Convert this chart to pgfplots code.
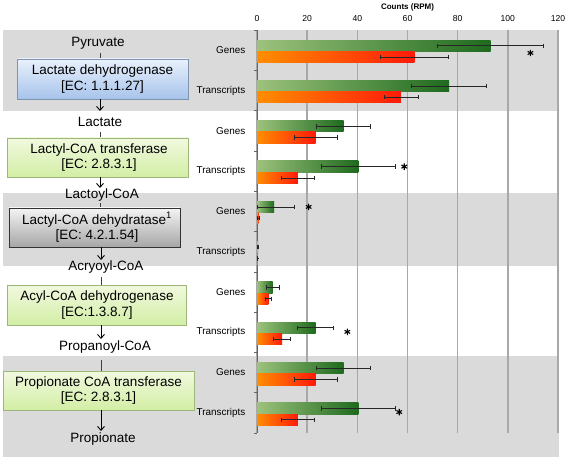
\documentclass[border=0pt]{standalone}
\usepackage{fontspec}
\setmainfont{Liberation Sans}
\usepackage{pgfplots}
\pgfplotsset{compat=1.18}
\usetikzlibrary{arrows.meta}
\definecolor{bandgrey}{HTML}{DADADA}
\definecolor{gridgrey}{HTML}{A8A8A8}
\definecolor{glight}{HTML}{9DC27C}
\definecolor{gdark}{HTML}{1E6A1E}
\definecolor{olight}{HTML}{FF8E00}
\definecolor{odark}{HTML}{FF1A0A}
\definecolor{bluetop}{HTML}{E9F1FC}
\definecolor{bluebot}{HTML}{A7C3EB}
\definecolor{blueedge}{HTML}{7F93AE}
\definecolor{greentop}{HTML}{F1F9DF}
\definecolor{greenbot}{HTML}{D3EEA5}
\definecolor{greenedge}{HTML}{9DB77A}
\definecolor{greytop}{HTML}{F4F4F4}
\definecolor{greybot}{HTML}{A6A6A6}
\begin{document}
\begin{tikzpicture}[x=1bp,y=-1bp]
\path[use as bounding box] (0,0) rectangle (567,458);
% background bands
\fill[bandgrey] (3,30) rectangle (559,111.5);
\fill[bandgrey] (3,193) rectangle (559,266);
\fill[bandgrey] (3,356) rectangle (559,457);
% pathway
\tikzset{met/.style={font=\fontsize{13.5bp}{15.5bp}\selectfont, inner sep=0pt},
  enz/.style={font=\fontsize{13.5bp}{15.5bp}\selectfont, align=center, inner sep=0pt},
  conn/.style={black!75, line width=0.9bp},
  arr/.style={black, line width=0.9bp, -{Straight Barb[length=4bp,width=7bp]}}}
\node[met] at (98,43) {Pyruvate};
\draw[conn] (100,53) -- (100,59);
\draw[blueedge, line width=0.8bp, top color=bluetop, bottom color=bluebot] (17,59) rectangle (188,99);
\node[enz] at (102.5,79) {Lactate dehydrogenase\\{}[EC: 1.1.1.27]};
\draw[arr] (100,99) -- (100,111);
\node[met] at (100,122) {Lactate};
\draw[conn] (100,132) -- (100,138);
\draw[greenedge, line width=0.8bp, top color=greentop, bottom color=greenbot] (7,138) rectangle (188,177);
\node[enz] at (99,157.5) {Lactyl-CoA transferase\\{}[EC: 2.8.3.1]};
\draw[arr] (100,177) -- (100,188);
\node[met] at (102,195) {Lactoyl-CoA};
\draw[conn] (100,203) -- (100,208);
\draw[black!80, line width=0.9bp, top color=greytop, bottom color=greybot] (9,208) rectangle (180,247);
\node[enz] at (97,227.5) {Lactyl-CoA dehydratase\textsuperscript{1}\\{}[EC: 4.2.1.54]};
\draw[arr] (101,247) -- (101,260);
\node[met] at (106,267) {Acryoyl-CoA};
\draw[conn] (101,277) -- (101,285);
\draw[greenedge, line width=0.8bp, top color=greentop, bottom color=greenbot] (7,285) rectangle (186,325);
\node[enz] at (97,305) {Acyl-CoA dehydrogenase\\{}[EC:1.3.8.7]};
\draw[arr] (101,325) -- (101,339);
\node[met] at (105,347) {Propanoyl-CoA};
\draw[conn] (101,360) -- (101,371);
\draw[greenedge, line width=0.8bp, top color=greentop, bottom color=greenbot] (3,371) rectangle (194,410);
\node[enz] at (98.5,390.5) {Propionate CoA transferase\\{}[EC: 2.8.3.1]};
\draw[arr] (101,410) -- (101,431);
\node[met] at (103,439) {Propionate};
% chart
\begin{axis}[
  at={(257bp,-433bp)}, anchor=south west,
  scale only axis, width=301bp, height=403bp,
  xmin=0, xmax=120, ymin=0.5, ymax=10.5,
  axis x line*=top, axis y line*=left,
  x axis line style={draw=none},
  y axis line style={draw=black!60, line width=0.8bp},
  xtick={0,20,...,120},
  xmajorgrids, grid style={gridgrey, line width=1.4bp},
  xtick style={draw=none},
  x tick label style={font=\fontsize{8.6bp}{10bp}\selectfont, yshift=1bp},
  /pgf/number format/assume math mode=true,
  xlabel={\bfseries Counts (RPM)},
  xlabel style={font=\fontsize{8bp}{10bp}\selectfont, yshift=-3bp},
  ytick={1,...,10},
  yticklabels={Transcripts,Genes,Transcripts,Genes,Transcripts,Genes,Transcripts,Genes,Transcripts,Genes},
  y tick label style={font=\fontsize{9.9bp}{12bp}\selectfont, xshift=-4bp},
  major y tick style={draw=none},
  minor ytick={0.5,1.5,...,10.5},
  minor y tick style={draw=black!60, line width=0.6bp},
  minor tick length=3bp,
  tick align=outside,
  clip=false,
  gbar/.style={xbar, bar width=0.28, bar shift=0pt, draw=none, left color=glight, right color=gdark, forget plot},
  obar/.style={xbar, bar width=0.28, bar shift=0pt, draw=none, left color=olight, right color=odark, forget plot},
  ebar/.style={draw=none, no markers, forget plot,
    error bars/.cd, x dir=both, x explicit, error mark=|,
    error bar style={draw=black!85, line width=0.7bp},
    error mark options={draw=black!85, line width=0.7bp, mark size=2.2bp}},
]
% green bars, one shading per bar
\addplot[gbar] coordinates {(93.1,10.11)};
\addplot[gbar] coordinates {(76.6,9.11)};
\addplot[gbar] coordinates {(34.5,8.11)};
\addplot[gbar] coordinates {(40.4,7.11)};
\addplot[gbar] coordinates {(6.8,6.11)};
\addplot[gbar] coordinates {(0.4,5.11)};
\addplot[gbar] coordinates {(6.2,4.11)};
\addplot[gbar] coordinates {(23.4,3.11)};
\addplot[gbar] coordinates {(34.5,2.11)};
\addplot[gbar] coordinates {(40.4,1.11)};
% orange bars
\addplot[obar] coordinates {(62.7,9.83)};
\addplot[obar] coordinates {(57.4,8.83)};
\addplot[obar] coordinates {(23.4,7.83)};
\addplot[obar] coordinates {(16.3,6.83)};
\addplot[obar] coordinates {(0.6,5.83)};
\addplot[obar] coordinates {(0.2,4.83)};
\addplot[obar] coordinates {(4.5,3.83)};
\addplot[obar] coordinates {(10.0,2.83)};
\addplot[obar] coordinates {(23.4,1.83)};
\addplot[obar] coordinates {(16.3,0.83)};
% error bars green
\addplot[ebar] coordinates {
 (93.1,10.11) +- (21.2,0)
 (76.6,9.11) +- (14.9,0)
 (34.5,8.11) +- (10.8,0)
 (40.4,7.11) +- (14.6,0)
 (6.8,6.11) += (8.1,0) -= (6.8,0)
 (0.4,5.11) +- (0.2,0)
 (6.2,4.11) +- (2.6,0)
 (23.4,3.11) +- (7.2,0)
 (34.5,2.11) +- (10.8,0)
 (40.4,1.11) +- (14.6,0)};
% error bars orange
\addplot[ebar] coordinates {
 (62.7,9.83) +- (13.5,0)
 (57.4,8.83) +- (6.8,0)
 (23.4,7.83) +- (8.5,0)
 (16.3,6.83) +- (6.7,0)
 (0.6,5.83) +- (0.3,0)
 (0.2,4.83) +- (0.1,0)
 (4.5,3.83) +- (1.3,0)
 (10.0,2.83) +- (3.3,0)
 (23.4,1.83) +- (8.5,0)
 (16.3,0.83) +- (6.7,0)};
% significance stars
\addplot[only marks, mark=asterisk, mark size=3.2bp, line width=1.1bp, black] coordinates {
 (109,9.93) (58.7,7.11) (20.6,6.11) (36,3.01) (56.7,1.02)};
\end{axis}
\end{tikzpicture}
\end{document}
